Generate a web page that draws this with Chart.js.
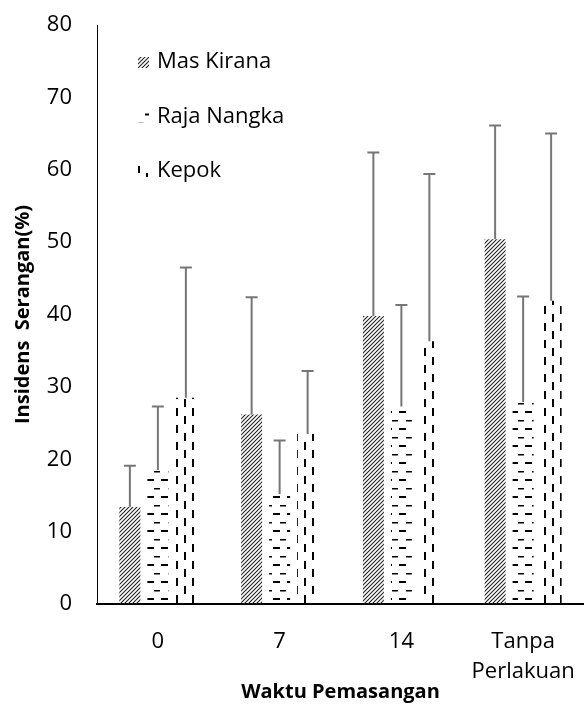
<!DOCTYPE html>
<html>
<head>
<meta charset="utf-8">
<script src="https://cdn.jsdelivr.net/npm/chart.js@4.4.1/dist/chart.umd.min.js"></script>
<style>
  html, body { margin: 0; padding: 0; background: #fff; }
  #wrap { width: 584px; height: 704px; }
</style>
</head>
<body>
<div id="wrap"><canvas id="chart" width="584" height="704"></canvas></div>
<script>
const categories = ['0', '7', '14', ['Tanpa', 'Perlakuan']];
const seriesNames = ['Mas Kirana', 'Raja Nangka', 'Kepok'];
const masKirana = [13.4, 26.2, 39.8, 50.4];
const rajaNangka = [18.5, 15.2, 27.3, 27.9];
const kepok = [28.5, 23.5, 36.3, 41.9];
// upper error (SD) per bar
const sdMasKirana = [5.7, 16.2, 22.6, 15.7];
const sdRajaNangka = [8.8, 7.4, 14.0, 14.6];
const sdKepok = [18.0, 8.7, 23.1, 23.1];
const yTicks = [0, 10, 20, 30, 40, 50, 60, 70, 80];

const ctx = document.getElementById('chart').getContext('2d');
const FONT = 'Open Sans';

function makePattern(w, h, draw) {
  const c = document.createElement('canvas');
  c.width = w;
  c.height = h;
  const g = c.getContext('2d');
  draw(g);
  return ctx.createPattern(c, 'repeat');
}

// diagonal hatch
const patDiag = makePattern(4, 4, g => {
  g.strokeStyle = '#222';
  g.lineWidth = 1.1;
  g.beginPath();
  g.moveTo(0, 4); g.lineTo(4, 0);
  g.moveTo(-1, 1); g.lineTo(1, -1);
  g.moveTo(3, 5); g.lineTo(5, 3);
  g.stroke();
});
// horizontal dashes
const patHDash = makePattern(14, 17, g => {
  g.fillStyle = '#000';
  g.fillRect(7, 3, 8, 2);
  g.fillRect(0, 12, 6, 1.5);
});
// vertical dashes
const patVDash = makePattern(16, 17, g => {
  g.fillStyle = '#000';
  g.fillRect(0, 0, 2, 8);
  g.fillRect(8, 8, 2, 8);
});

const errorBars = {
  id: 'errorBars',
  afterDatasetsDraw(chart) {
    const c = chart.ctx;
    const yScale = chart.scales.y;
    c.save();
    c.strokeStyle = '#767676';
    c.lineWidth = 2;
    chart.data.datasets.forEach((ds, i) => {
      chart.getDatasetMeta(i).data.forEach((bar, j) => {
        const yEnd = yScale.getPixelForValue(ds.data[j] + ds.errors[j]);
        c.beginPath();
        c.moveTo(bar.x, bar.y);
        c.lineTo(bar.x, yEnd);
        c.moveTo(bar.x - 6, yEnd);
        c.lineTo(bar.x + 6, yEnd);
        c.stroke();
      });
    });
    c.restore();
  }
};

const insideLegend = {
  id: 'insideLegend',
  afterDraw(chart) {
    const c = chart.ctx;
    const area = chart.chartArea;
    c.save();
    c.font = '22px "' + FONT + '"';
    c.textBaseline = 'middle';
    chart.data.datasets.forEach((ds, i) => {
      const y = area.top + 37 + i * 54.5;
      const x = area.left + 41;
      c.save();
      c.translate(x, y - 6);
      c.fillStyle = ds.backgroundColor;
      c.fillRect(0, 1, 11, 11);
      c.restore();
      c.fillStyle = '#000';
      c.fillText(ds.label, x + 19, y);
    });
    c.restore();
  }
};

new Chart(ctx, {
  type: 'bar',
  data: {
    labels: categories,
    datasets: [
      { label: seriesNames[0], data: masKirana, errors: sdMasKirana, backgroundColor: patDiag },
      { label: seriesNames[1], data: rajaNangka, errors: sdRajaNangka, backgroundColor: patHDash },
      { label: seriesNames[2], data: kepok, errors: sdKepok, backgroundColor: patVDash }
    ]
  },
  options: {
    responsive: false,
    animation: false,
    layout: { padding: { top: 25, left: 0, right: 0, bottom: 0 } },
    datasets: { bar: { categoryPercentage: 0.69, barPercentage: 0.75 } },
    plugins: { legend: { display: false }, tooltip: { enabled: false } },
    scales: {
      x: {
        grid: { display: false, drawTicks: false },
        border: { color: '#000', width: 2 },
        ticks: {
          color: '#000',
          font: { family: FONT, size: 22, lineHeight: 1.36 },
          padding: 23,
          maxRotation: 0,
          autoSkip: false
        },
        title: {
          display: true,
          text: 'Waktu Pemasangan',
          color: '#000',
          font: { family: FONT, size: 20, weight: 'bold' },
          padding: 0
        },
        afterFit: s => {
          s.height = 100;
          s.paddingLeft = 0;
          s.paddingRight = 0;
        }
      },
      y: {
        min: 0,
        max: 80,
        grid: { display: false, drawTicks: false },
        border: { color: '#000', width: 1 },
        afterBuildTicks: s => { s.ticks = yTicks.map(v => ({ value: v })); },
        ticks: {
          color: '#000',
          font: { family: FONT, size: 22 },
          padding: 25
        },
        title: {
          display: true,
          text: 'Insidens  Serangan(%)',
          color: '#000',
          font: { family: FONT, size: 20, weight: 'bold' },
          padding: { top: 11, bottom: 0 }
        },
        afterFit: s => {
          s.width = 97;
          s.paddingTop = 0;
          s.paddingBottom = 0;
        }
      }
    }
  },
  plugins: [errorBars, insideLegend]
});
</script>
</body>
</html>
